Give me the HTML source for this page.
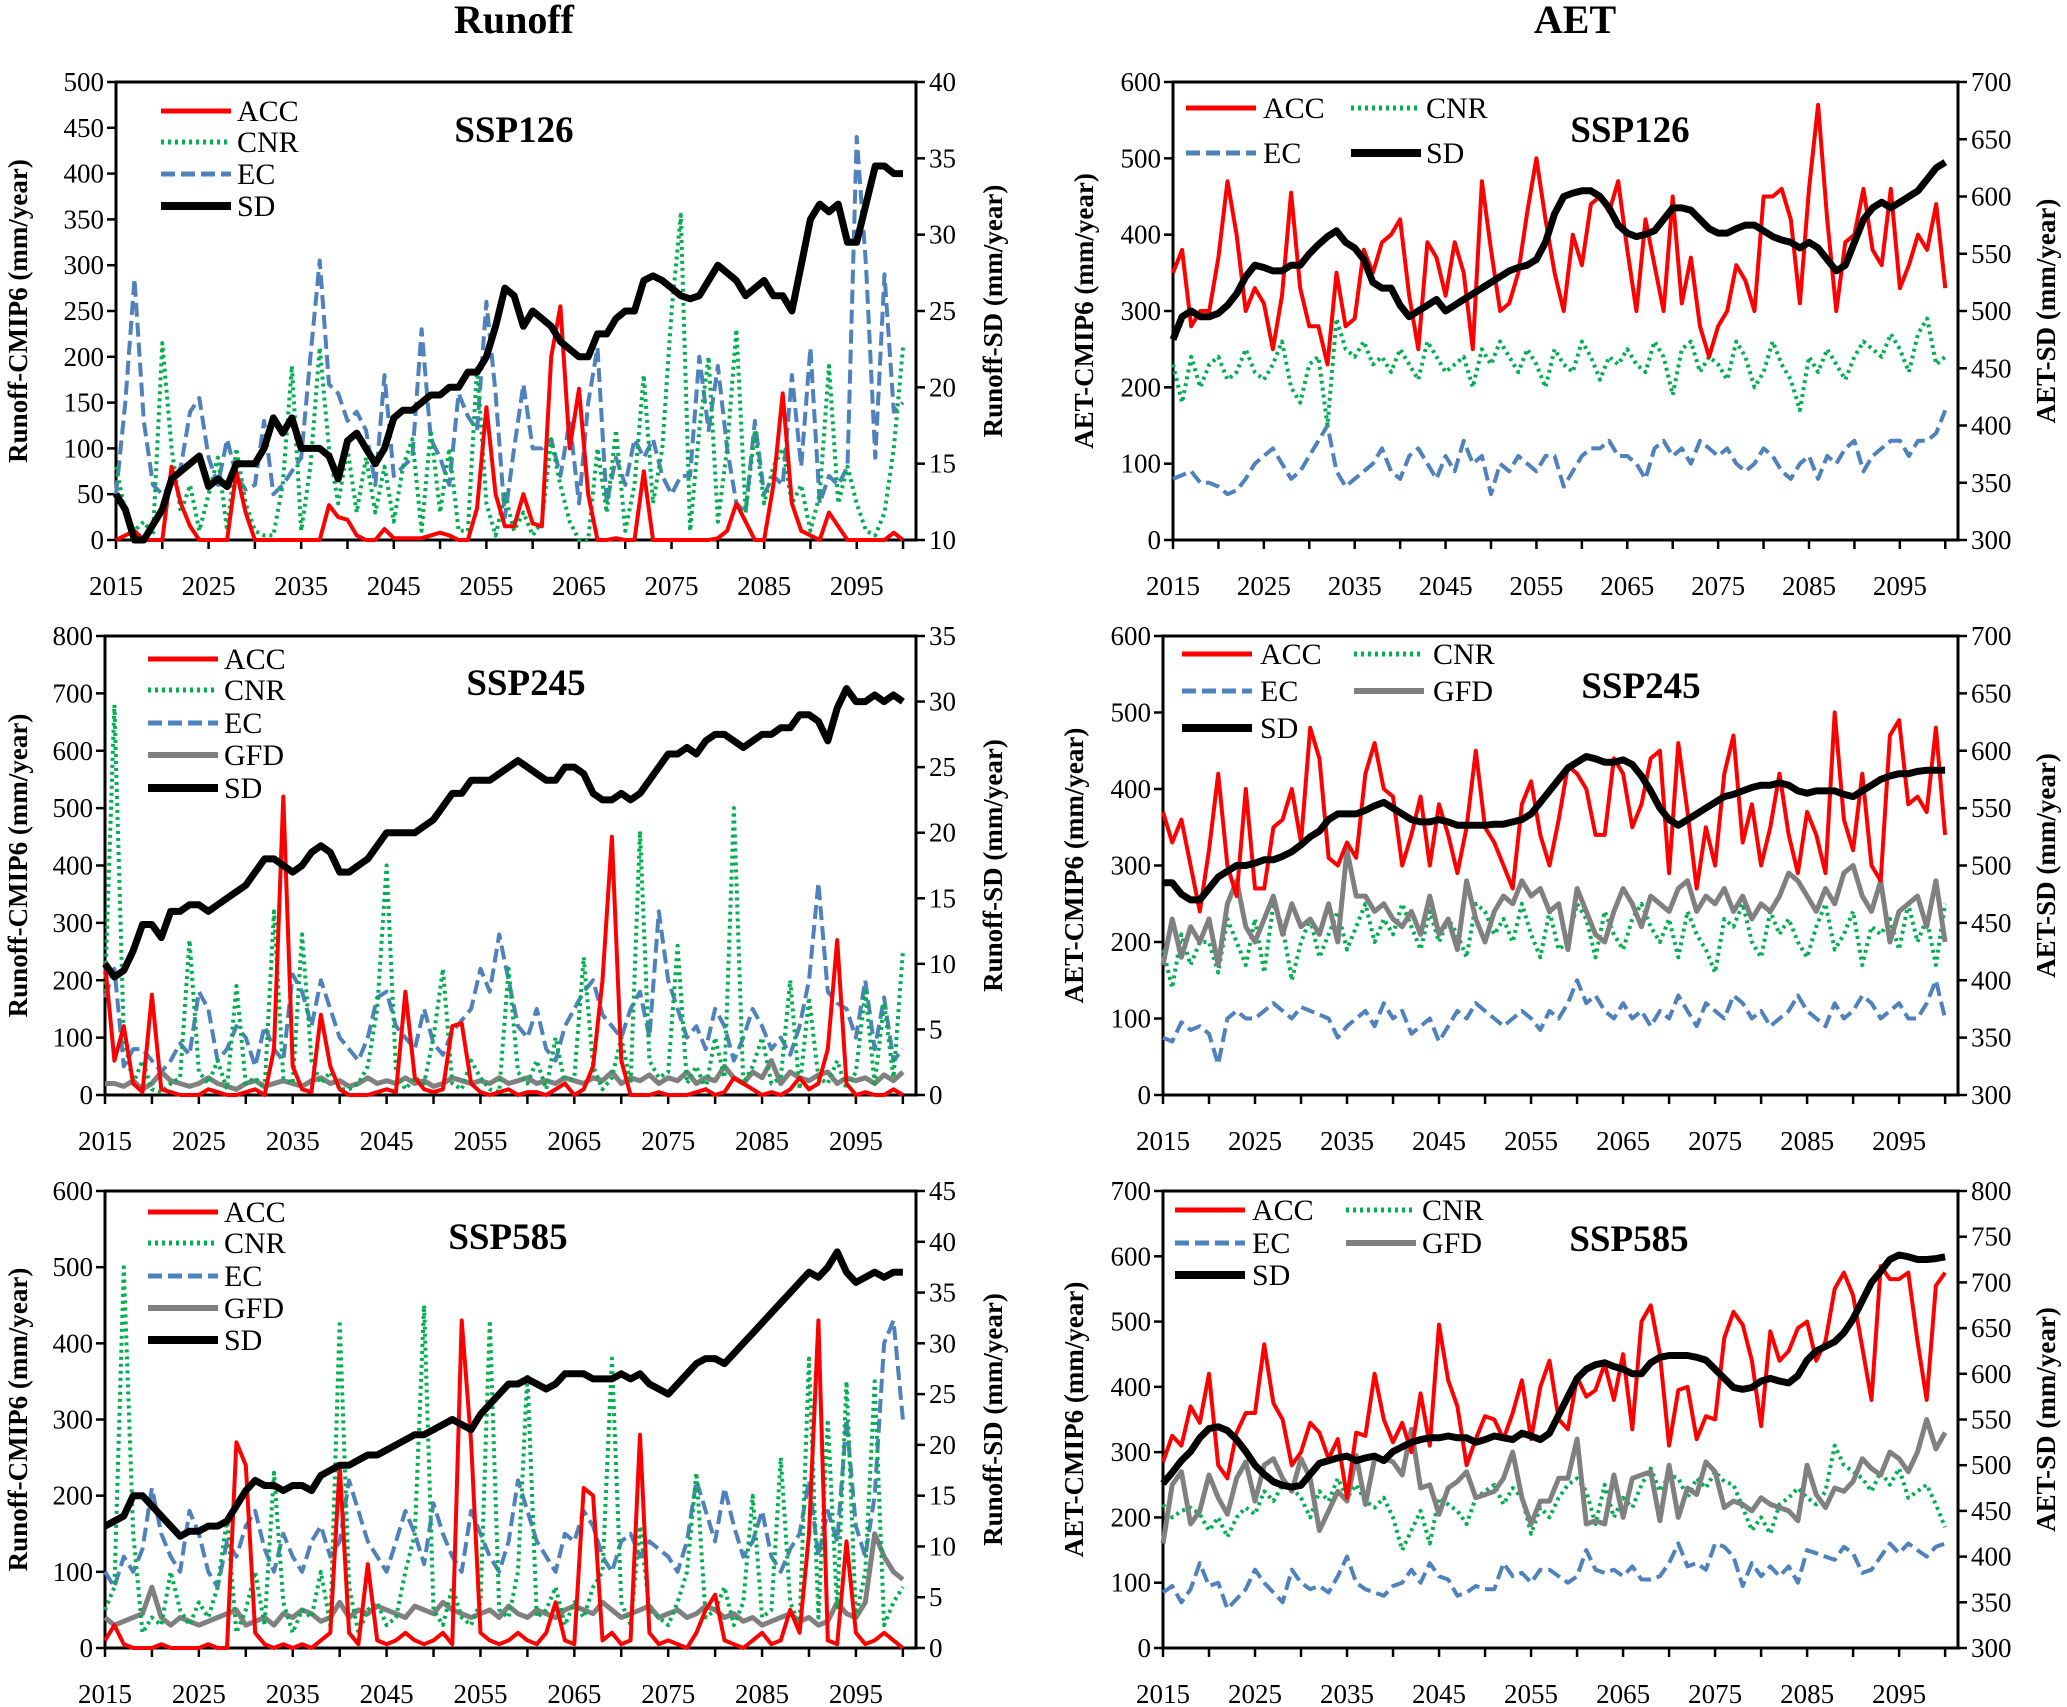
<!DOCTYPE html>
<html><head><meta charset="utf-8"><title>Runoff and AET under CMIP6 SSP scenarios, 2015–2100</title>
<style>html,body{margin:0;padding:0;background:#fff}svg{display:block}svg text{font-family:"Liberation Serif","Times New Roman",serif}</style>
</head><body>
<svg id="chart" xmlns="http://www.w3.org/2000/svg" width="2067" height="1707" viewBox="0 0 2067 1707" font-family="Liberation Serif, serif"></svg>
<script>
// ---------- DATA ----------
const yearTicks = [2015,2025,2035,2045,2055,2065,2075,2085,2095];
const seriesNames = ["ACC","CNR","EC","GFD","SD"];
// Panel 1: Runoff SSP126
const r126_ACC=[0,5,10,0,0,0,80,40,15,0, 0,0,0,75,30,0,0,0,0,0, 0,0,0,38,25,22,5,0,0,12, 2,2,2,2,5,8,5,0,0,35, 145,50,15,15,50,18,15,200,255,100, 165,50,0,0,2,0,0,75,0,0, 0,0,0,0,0,2,10,40,20,0, 0,60,160,40,10,5,0,30,15,0, 0,0,0,0,8,0];
const r126_CNR=[80,30,10,20,5,215,100,30,60,10, 50,90,10,100,40,10,5,5,60,190, 10,80,210,100,40,100,30,90,30,80, 20,80,110,10,120,30,100,10,10,190, 40,5,50,10,30,5,20,110,60,20, 0,0,100,30,120,10,60,180,40,100, 250,355,10,120,200,20,100,230,30,120, 40,80,100,40,60,10,50,190,40,80, 40,10,5,30,100,210];
const r126_EC=[50,150,285,130,60,50,60,80,140,155, 90,60,110,70,55,60,130,50,60,75, 90,200,305,170,160,130,140,120,60,180, 70,80,90,230,110,90,60,160,135,120, 260,160,25,100,170,100,100,110,70,130, 40,150,210,40,90,60,110,90,110,70, 50,70,70,200,120,190,100,40,30,130, 50,70,60,180,80,210,40,70,60,80, 440,300,90,290,140,150];
const r126_SD=[13,12,10,10,11,12,14,14.5,15,15.5, 13.5,14,13.5,15,15,15,16,18,17,18, 16,16,16,15.5,14,16.5,17,16,15,16, 18,18.5,18.5,19,19.5,19.5,20,20,21,21, 22,24,26.5,26,24,25,24.5,24,23,22.5, 22,22,23.5,23.5,24.5,25,25,27,27.3,27, 26.5,26,25.8,26,27,28,27.5,27,26,26.5, 27,26,26,25,28,31,32,31.5,32,29.5, 29.5,32,34.5,34.5,34,34];
// Panel 2: AET SSP126
const a126_ACC=[350,380,280,300,300,370,470,400,300,330, 310,250,320,455,330,280,280,230,350,280, 290,380,350,390,400,420,320,250,390,370, 320,390,350,250,470,380,300,310,350,430, 500,420,350,300,400,360,440,450,430,470, 380,300,420,360,300,450,310,370,280,240, 280,300,360,340,300,450,450,460,420,310, 460,570,420,300,390,400,460,380,360,460, 330,360,400,380,440,330];
const a126_CNR=[230,180,240,200,230,240,210,220,250,220, 210,230,260,200,180,230,240,150,290,250, 240,260,230,240,220,250,230,210,260,240, 220,230,240,200,250,230,260,240,220,250, 230,200,250,230,220,260,240,210,240,230, 250,230,220,260,240,190,250,260,220,240, 230,210,260,240,200,220,260,230,210,170, 240,220,250,230,210,240,260,250,240,270, 250,220,270,290,230,240];
const a126_EC=[80,85,90,75,75,70,60,65,80,100, 110,120,100,80,90,110,130,150,90,70, 80,90,100,120,90,80,110,120,100,80, 110,90,130,100,110,60,100,90,110,100, 90,110,110,70,90,110,120,120,130,110, 110,100,80,120,130,110,120,100,130,120, 110,120,100,90,100,120,110,90,80,100, 110,80,110,100,120,130,90,110,120,130, 130,110,130,130,140,170];
const a126_SD=[475,495,500,495,495,498,505,515,530,540, 538,535,535,540,540,550,558,565,570,560, 555,545,525,520,520,505,495,500,505,510, 500,505,510,515,520,525,530,535,538,540, 545,560,585,600,603,605,605,600,590,575, 568,565,567,570,580,590,590,588,580,572, 568,568,572,575,575,570,565,562,560,555, 560,555,545,535,540,560,580,590,595,590, 595,600,605,615,625,630];
// Panel 3: Runoff SSP245
const r245_ACC=[230,60,120,20,5,175,10,5,0,0, 0,10,5,0,0,5,10,0,80,520, 50,10,5,140,50,10,0,0,0,5, 10,5,180,30,10,5,10,120,125,20, 5,0,5,10,0,5,5,0,10,20, 0,10,50,200,450,60,0,0,0,5, 0,0,0,5,10,0,5,30,20,10, 0,5,0,10,30,10,20,80,270,20, 0,5,0,0,10,0];
const r245_CNR=[180,680,100,20,60,10,5,20,30,270, 40,20,60,10,190,20,30,10,320,30, 20,280,60,20,40,10,10,20,50,150, 400,40,10,30,20,100,220,20,10,60, 30,10,5,220,40,20,60,10,100,20, 30,240,50,10,30,100,20,460,60,30, 40,260,20,50,10,100,30,500,20,50, 100,20,30,200,10,170,30,20,60,10, 40,180,20,160,30,250];
const r245_EC=[170,220,50,80,80,60,40,60,90,70, 180,150,60,80,120,100,50,120,80,60, 210,180,120,200,150,100,80,60,100,170, 180,120,100,80,150,90,70,110,130,150, 220,180,280,200,120,100,150,80,60,120, 150,180,200,140,120,100,150,180,100,320, 200,150,100,120,80,150,120,60,100,150, 120,80,100,70,120,200,370,180,160,150, 100,200,80,170,60,80];
const r245_GFD=[20,20,15,25,10,20,40,25,20,15, 20,30,20,15,10,20,25,15,20,25, 20,15,25,30,20,25,15,20,30,20, 25,20,30,20,25,15,20,30,25,20, 25,20,30,20,25,30,20,25,20,30, 25,20,30,25,40,20,30,25,35,20, 30,25,40,20,30,25,50,30,20,40, 30,60,20,40,30,25,35,40,20,30, 25,30,20,35,25,40];
const r245_SD=[10,9,9.5,11,13,13,12,14,14,14.5, 14.5,14,14.5,15,15.5,16,17,18,18,17.5, 17,17.5,18.5,19,18.5,17,17,17.5,18,19, 20,20,20,20,20.5,21,22,23,23,24, 24,24,24.5,25,25.5,25,24.5,24,24,25, 25,24.5,23,22.5,22.5,23,22.5,23,24,25, 26,26,26.5,26,27,27.5,27.5,27,26.5,27, 27.5,27.5,28,28,29,29,28.5,27,29.5,31, 30,30,30.5,30,30.5,30];
// Panel 4: AET SSP245
const a245_ACC=[370,330,360,300,240,320,420,300,260,400, 270,270,350,360,400,330,480,440,310,300, 330,310,420,460,400,390,300,340,390,300, 380,340,290,350,450,350,330,300,270,380, 410,340,300,360,430,420,400,340,340,440, 420,350,380,440,450,290,460,370,270,350, 300,420,470,330,380,300,350,420,340,290, 370,340,290,500,360,320,420,300,280,470, 490,380,390,370,480,340];
const a245_CNR=[190,140,210,170,200,200,160,230,200,170, 230,160,250,220,150,200,230,180,210,240, 190,220,250,200,230,210,250,220,190,240, 200,230,210,180,250,240,210,230,200,250, 210,180,240,190,200,250,230,180,240,210, 190,230,250,220,200,230,180,240,210,190, 160,230,220,250,200,180,240,210,230,200, 180,220,250,190,210,240,170,220,210,230, 190,250,200,230,170,250];
const a245_EC=[75,70,95,85,90,80,40,100,110,100, 100,110,120,110,100,115,110,105,100,75, 90,100,110,90,120,100,110,80,90,100, 70,90,110,100,120,110,100,90,100,110, 100,85,110,100,120,150,120,130,110,100, 120,100,110,90,110,100,130,110,90,120, 110,100,130,120,100,110,90,100,110,130, 110,100,90,120,100,110,130,120,100,110, 120,100,100,120,150,100];
const a245_GFD=[170,230,180,220,200,230,170,250,280,220, 200,230,260,210,250,220,230,210,250,200, 320,260,260,240,250,230,220,240,210,260, 210,230,190,280,230,200,240,260,250,280, 260,270,240,250,190,270,240,210,200,240, 270,250,220,260,250,240,270,280,240,260, 250,270,240,260,230,250,240,260,290,280, 260,240,270,250,290,300,260,240,280,200, 240,250,260,220,280,200];
const a245_SD=[485,485,475,470,470,480,490,495,500,500, 502,505,505,508,512,518,525,530,540,545, 545,545,548,552,555,550,545,540,538,538, 540,538,535,535,535,535,536,536,538,540, 545,555,565,575,585,590,595,593,590,590, 592,588,578,565,550,540,535,540,545,550, 555,560,562,565,568,570,570,572,570,565, 563,565,565,565,562,560,565,570,575,578, 580,580,582,583,583,583];
// Panel 5: Runoff SSP585
const r585_ACC=[10,30,5,0,0,0,5,0,0,0, 0,5,0,0,270,240,20,5,0,5, 0,5,0,10,20,240,20,5,110,10, 5,10,20,10,5,10,20,5,430,270, 20,10,5,10,20,10,5,20,60,10, 5,210,200,10,20,5,10,280,20,5, 10,5,0,20,50,70,10,5,0,10, 20,5,10,50,20,150,430,10,5,140, 20,5,10,20,10,0];
const r585_CNR=[50,80,500,150,20,40,30,100,50,30, 60,40,80,170,20,50,100,30,230,60, 20,50,40,100,30,430,80,20,50,60, 30,40,100,150,450,50,30,80,40,30, 60,430,50,40,100,360,40,50,80,30, 60,40,80,100,380,60,30,160,50,40, 30,60,100,230,40,50,80,30,60,200, 40,50,250,60,30,380,40,300,50,350, 40,100,350,30,60,80];
const r585_EC=[100,80,120,100,130,210,150,120,100,180, 150,100,80,140,120,160,180,130,100,150, 120,100,140,160,120,140,220,180,140,120, 100,140,180,150,110,190,150,120,100,180, 150,120,100,140,220,180,140,120,100,150, 140,180,160,120,100,140,150,120,140,130, 120,100,140,220,180,140,210,160,120,140, 180,120,100,130,150,220,120,180,140,300, 160,120,200,400,430,300];
const r585_GFD=[40,30,35,40,45,80,40,30,40,35, 30,35,40,45,50,30,35,40,30,45, 40,50,45,35,40,60,40,50,45,55, 50,45,40,55,50,45,60,50,45,40, 45,50,40,55,45,40,50,45,40,50, 55,50,45,60,50,40,45,50,55,40, 45,50,40,45,55,50,40,45,35,40, 30,35,40,45,35,40,30,35,60,45, 40,60,150,120,100,90];
const r585_SD=[12,12.5,13,15,15,14,13,12,11,11.5, 11.5,12,12,12.5,14,15.5,16.5,16,16,15.5, 16,16,15.5,17,17.5,18,18,18.5,19,19, 19.5,20,20.5,21,21,21.5,22,22.5,22,21.5, 23,24,25,26,26,26.5,26,25.5,26,27, 27,27,26.5,26.5,26.5,27,26.5,27,26,25.5, 25,26,27,28,28.5,28.5,28,29,30,31, 32,33,34,35,36,37,36.5,37.5,39,37, 36,36.5,37,36.5,37,37];
// Panel 6: AET SSP585
const a585_ACC=[285,325,310,370,345,420,280,260,330,360, 360,465,375,350,280,300,345,330,290,320, 230,330,325,420,350,315,345,300,390,310, 495,410,370,280,320,355,350,320,360,410, 320,400,440,350,335,415,385,395,435,380, 450,335,500,525,450,310,395,400,320,355, 350,475,515,495,440,340,485,440,455,490, 500,440,470,550,575,540,460,380,585,565, 565,575,470,380,555,575];
const a585_CNR=[220,200,210,215,205,180,200,170,200,215, 205,240,225,250,245,230,200,240,225,260, 230,250,225,215,230,200,150,180,210,160, 230,220,210,190,230,240,250,220,245,230, 175,215,200,230,250,260,240,190,250,200, 230,215,250,275,240,265,260,230,260,245, 270,255,250,215,180,200,175,220,230,245, 230,220,240,310,280,270,260,240,270,250, 275,230,240,250,220,185];
const a585_EC=[85,95,70,90,130,95,100,60,75,90, 120,100,85,70,120,100,90,95,85,110, 140,100,90,85,80,95,100,120,100,130, 110,105,80,85,95,90,90,130,110,115, 100,120,120,110,100,110,150,120,115,120, 110,125,105,105,110,130,160,125,130,120, 160,155,140,95,130,110,125,110,125,100, 150,145,140,135,155,145,115,120,140,160, 145,160,150,140,155,160];
const a585_GFD=[160,250,270,190,210,265,230,205,260,285, 225,280,290,260,240,290,260,180,210,240, 225,295,220,290,290,285,265,335,245,250, 205,245,255,270,230,235,240,260,300,230, 190,225,225,260,260,320,190,195,190,265, 200,260,265,270,195,280,200,245,235,285, 270,215,225,220,210,230,220,215,210,195, 280,235,215,245,240,255,290,275,265,300, 290,270,300,350,305,330];
const a585_SD=[480,492,505,515,530,540,542,538,528,515, 500,490,482,478,476,478,490,502,505,508, 510,505,508,510,505,515,520,525,528,530, 530,532,530,530,525,528,532,530,528,535, 532,528,535,555,575,595,605,610,612,608, 605,600,600,612,618,620,620,620,618,615, 605,595,585,583,585,592,595,592,590,598, 615,625,630,635,645,660,680,700,712,725, 730,728,725,725,726,728];
</script>
<script>
const NS="http://www.w3.org/2000/svg";
const svg=document.getElementById('chart');
function mk(tag,attrs,parent){const e=document.createElementNS(NS,tag);for(const k in attrs)e.setAttribute(k,attrs[k]);(parent||svg).appendChild(e);return e;}
const styles={
  ACC:{stroke:"#ff0000",w:4,dash:null},
  CNR:{stroke:"#00b050",w:4,dash:"3 4"},
  EC:{stroke:"#4f81bd",w:4,dash:"14 6"},
  GFD:{stroke:"#808080",w:5,dash:null},
  SD:{stroke:"#000000",w:7,dash:null}
};
const panels=[
 {id:"runoff-ssp126",x0:116,x1:916,y0:82,y1:540,lmax:500,lstep:50,rmin:10,rmax:40,rstep:5,lt:"Runoff-CMIP6 (mm/year)",rt:"Runoff-SD (mm/year)",ltx:18,rtx:993,label:"SSP126",lx:514,ly:142,
  data:{EC:r126_EC,CNR:r126_CNR,ACC:r126_ACC,SD:r126_SD},
  legend:[["ACC",161,111,237],["CNR",161,142,237],["EC",161,174,237],["SD",161,206,237]]},
 {id:"aet-ssp126",x0:1173,x1:1958,y0:82,y1:540,lmax:600,lstep:100,rmin:300,rmax:700,rstep:50,lt:"AET-CMIP6 (mm/year)",rt:"AET-SD (mm/year)",ltx:1084,rtx:2046,label:"SSP126",lx:1630,ly:142,
  data:{EC:a126_EC,CNR:a126_CNR,ACC:a126_ACC,SD:a126_SD},
  legend:[["ACC",1186,108,1263],["CNR",1351,108,1426],["EC",1186,153,1263],["SD",1351,153,1426]]},
 {id:"runoff-ssp245",x0:105,x1:916,y0:636,y1:1095,lmax:800,lstep:100,rmin:0,rmax:35,rstep:5,lt:"Runoff-CMIP6 (mm/year)",rt:"Runoff-SD (mm/year)",ltx:18,rtx:993,label:"SSP245",lx:526,ly:695,
  data:{GFD:r245_GFD,EC:r245_EC,CNR:r245_CNR,ACC:r245_ACC,SD:r245_SD},
  legend:[["ACC",148,659,224],["CNR",148,690,224],["EC",148,723,224],["GFD",148,755,224],["SD",148,788,224]]},
 {id:"aet-ssp245",x0:1163,x1:1958,y0:636,y1:1095,lmax:600,lstep:100,rmin:300,rmax:700,rstep:50,lt:"AET-CMIP6 (mm/year)",rt:"AET-SD (mm/year)",ltx:1074,rtx:2046,label:"SSP245",lx:1641,ly:698,
  data:{EC:a245_EC,CNR:a245_CNR,GFD:a245_GFD,ACC:a245_ACC,SD:a245_SD},
  legend:[["ACC",1182,654,1260],["CNR",1354,654,1433],["EC",1182,691,1260],["GFD",1354,691,1433],["SD",1182,728,1260]]},
 {id:"runoff-ssp585",x0:105,x1:916,y0:1191,y1:1648,lmax:600,lstep:100,rmin:0,rmax:45,rstep:5,lt:"Runoff-CMIP6 (mm/year)",rt:"Runoff-SD (mm/year)",ltx:18,rtx:993,label:"SSP585",lx:508,ly:1249,
  data:{GFD:r585_GFD,EC:r585_EC,CNR:r585_CNR,ACC:r585_ACC,SD:r585_SD},
  legend:[["ACC",148,1212,224],["CNR",148,1243,224],["EC",148,1276,224],["GFD",148,1308,224],["SD",148,1340,224]]},
 {id:"aet-ssp585",x0:1163,x1:1958,y0:1191,y1:1648,lmax:700,lstep:100,rmin:300,rmax:800,rstep:50,lt:"AET-CMIP6 (mm/year)",rt:"AET-SD (mm/year)",ltx:1074,rtx:2046,label:"SSP585",lx:1629,ly:1251,
  data:{EC:a585_EC,CNR:a585_CNR,GFD:a585_GFD,ACC:a585_ACC,SD:a585_SD},
  legend:[["ACC",1175,1210,1252],["CNR",1346,1210,1422],["EC",1175,1243,1252],["GFD",1346,1243,1422],["SD",1175,1275,1252]]}
];
let t=mk('text',{x:514,y:33,'text-anchor':'middle','font-size':40,'font-weight':'bold'});


t.textContent="Runoff";
t=mk('text',{x:1575,y:33,'text-anchor':'middle','font-size':40,'font-weight':'bold'});


t.textContent="AET";

panels.forEach(p=>{
  const g=mk('g',{});
  
  
  const X=yr=>p.x0+(yr-2015)/86.4*(p.x1-p.x0);
  const YL=v=>p.y1-v/p.lmax*(p.y1-p.y0);
  const YR=v=>p.y1-(v-p.rmin)/(p.rmax-p.rmin)*(p.y1-p.y0);
  const fr=mk('rect',{x:p.x0,y:p.y0,width:p.x1-p.x0,height:p.y1-p.y0,fill:'none',stroke:'#000','stroke-width':3},g);
  
  
  for(let v=0;v<=p.lmax+1e-6;v+=p.lstep){
    const y=YL(v);
    const tk=mk('line',{x1:p.x0-9,x2:p.x0,y1:y,y2:y,stroke:'#000','stroke-width':2.5},g);
    
    
    const tl=mk('text',{x:p.x0-12,y:y+9,'text-anchor':'end','font-size':27},g);
    
    
    tl.textContent=Math.round(v);
  }
  for(let v=p.rmin;v<=p.rmax+1e-6;v+=p.rstep){
    const y=YR(v);
    const tk=mk('line',{x1:p.x1,x2:p.x1+9,y1:y,y2:y,stroke:'#000','stroke-width':2.5},g);
    
    
    const tl=mk('text',{x:p.x1+13,y:y+9,'text-anchor':'start','font-size':27},g);
    
    
    tl.textContent=Math.round(v);
  }
  for(let yr=2015;yr<=2100;yr+=5){
    const x=X(yr);
    const tk=mk('line',{x1:x,x2:x,y1:p.y1,y2:p.y1+9,stroke:'#000','stroke-width':2.5},g);
    
    
  }
  yearTicks.forEach(yr=>{
    const tl=mk('text',{x:X(yr),y:p.y1+55,'text-anchor':'middle','font-size':27},g);
    
    
    tl.textContent=yr;
  });
  const cy=(p.y0+p.y1)/2;
  let at=mk('text',{x:p.ltx,y:cy,'text-anchor':'middle','font-size':27,'font-weight':'bold',transform:`rotate(-90 ${p.ltx} ${cy})`,'dominant-baseline':'central'},g);
  
  
  at.textContent=p.lt;
  at=mk('text',{x:p.rtx,y:cy,'text-anchor':'middle','font-size':27,'font-weight':'bold',transform:`rotate(-90 ${p.rtx} ${cy})`,'dominant-baseline':'central'},g);
  
  
  at.textContent=p.rt;
  Object.keys(p.data).forEach(name=>{
    const vals=p.data[name];const s=styles[name];
    const Y=name==="SD"?YR:YL;
    const n=vals.length;
    const pts=vals.map((v,i)=>X(2015+i*85/(n-1)).toFixed(1)+','+Y(v).toFixed(1)).join(' ');
    const pl=mk('polyline',{points:pts,fill:'none',stroke:s.stroke,'stroke-width':s.w,'stroke-linejoin':'round'},g);
    if(s.dash)pl.setAttribute('stroke-dasharray',s.dash);
    
    
  });
  p.legend.forEach(([name,lx,ly,tx])=>{
    const s=styles[name];
    const ln=mk('line',{x1:lx,x2:lx+70,y1:ly,y2:ly,stroke:s.stroke,'stroke-width':name==="SD"?8:s.w+1},g);
    if(s.dash)ln.setAttribute('stroke-dasharray',s.dash);
    
    
    const lt=mk('text',{x:tx,y:ly+10,'font-size':30},g);
    
    
    lt.textContent=name;
  });
  const sl=mk('text',{x:p.lx,y:p.ly,'text-anchor':'middle','font-size':37,'font-weight':'bold'},g);
  
  
  sl.textContent=p.label;
});
</script>
</body></html>
